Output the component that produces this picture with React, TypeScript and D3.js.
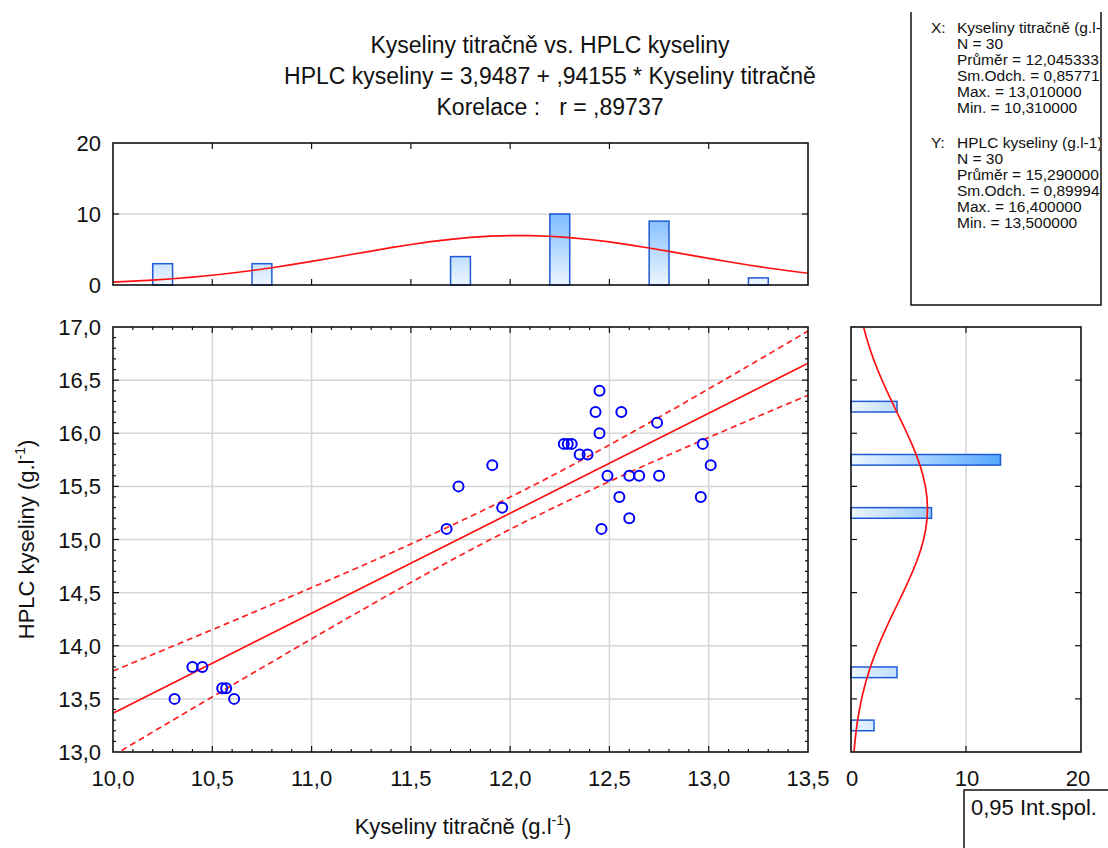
import React, { useEffect } from 'react';
import * as d3 from 'd3';

// ---------- data ----------
const xVals = [10.31, 10.40, 10.45, 10.55, 10.57, 10.61, 11.68, 11.74, 11.91, 11.96,
  12.45, 12.43, 12.56, 12.74, 12.45, 12.27, 12.29, 12.31, 12.35, 12.39,
  12.49, 12.60, 12.65, 12.75, 12.97, 13.01, 12.55, 12.96, 12.60, 12.46];
const yVals = [13.5, 13.8, 13.8, 13.6, 13.6, 13.5, 15.1, 15.5, 15.7, 15.3,
  16.4, 16.2, 16.2, 16.1, 16.0, 15.9, 15.9, 15.9, 15.8, 15.8,
  15.6, 15.6, 15.6, 15.6, 15.9, 15.7, 15.4, 15.4, 15.2, 15.1];

const histXBins = [10.25, 10.75, 11.75, 12.25, 12.75, 13.25];
const histXCounts = [3, 3, 4, 10, 9, 1];
const histYBins = [13.25, 13.75, 15.25, 15.75, 16.25];
const histYCounts = [2, 4, 7, 13, 4];

const intercept = 3.9487;
const slope = 0.94155;
const nObs = 30;
const meanX = 12.045333;
const sdX = 0.857712;
const meanY = 15.29;
const sdY = 0.899943;
const binWidth = 0.5;
const tCrit = 2.0484;

const titleLines = [
  'Kyseliny titračně vs. HPLC kyseliny',
  'HPLC kyseliny = 3,9487 + ,94155 * Kyseliny titračně',
  'Korelace :   r = ,89737',
];
const xStatHead = 'Kyseliny titračně (g.l-1)';
const xStatLines = ['N = 30', 'Průměr = 12,045333', 'Sm.Odch. = 0,857712', 'Max. = 13,010000', 'Min. = 10,310000'];
const yStatHead = 'HPLC kyseliny (g.l-1)';
const yStatLines = ['N = 30', 'Průměr = 15,290000', 'Sm.Odch. = 0,899943', 'Max. = 16,400000', 'Min. = 13,500000'];

const xMajor = [10, 10.5, 11, 11.5, 12, 12.5, 13, 13.5];
const yMajor = [13, 13.5, 14, 14.5, 15, 15.5, 16, 16.5, 17];
const histTicks = [0, 10, 20];

// ---------- layout ----------
const FONT = '"Liberation Sans", Arial, sans-serif';
const TXT = '#111';
const L = 113, R = 808, T = 327, B = 752;
const HT = 143, HB = 285;
const RL = 851, RR = 1081;

const fmt = (v: number) => d3.format('.1f')(v).replace('.', ',');
const normPdf = (v: number, m: number, s: number) =>
  Math.exp(-0.5 * ((v - m) / s) ** 2) / (s * Math.sqrt(2 * Math.PI));

export default function App() {
  useEffect(() => { document.body.style.margin = '0'; }, []);

  const x = d3.scaleLinear().domain([10, 13.5]).range([L, R]);
  const y = d3.scaleLinear().domain([13, 17]).range([B, T]);
  const hy = d3.scaleLinear().domain([0, 20]).range([HB, HT]);
  const hx = d3.scaleLinear().domain([0, 20]).range([RL, RR]);

  // regression stats for confidence band
  const sxx = d3.sum(xVals, (v) => (v - meanX) ** 2);
  const sse = d3.sum(xVals, (v, i) => (yVals[i] - (intercept + slope * v)) ** 2);
  const sRes = Math.sqrt(sse / (nObs - 2));
  const xs = d3.range(10, 13.5001, 0.05);
  const band = (sign: number) => xs.map((v) => {
    const se = sRes * Math.sqrt(1 / nObs + (v - meanX) ** 2 / sxx);
    return [v, intercept + slope * v + sign * tCrit * se] as [number, number];
  });
  const line = d3.line<[number, number]>().x((d) => x(d[0])).y((d) => y(d[1]));

  const topCurve = d3.range(10, 13.5001, 0.1).map((v) => [v, nObs * binWidth * normPdf(v, meanX, sdX)] as [number, number]);
  const topLine = d3.line<[number, number]>().x((d) => x(d[0])).y((d) => hy(d[1]));
  const rightCurve = d3.range(13, 17.0001, 0.1).map((v) => [v, nObs * binWidth * normPdf(v, meanY, sdY)] as [number, number]);
  const rightLine = d3.line<[number, number]>().x((d) => hx(d[1])).y((d) => y(d[0]));

  const xMinor = d3.range(0, 36).map((i) => 10 + i * 0.1).filter((v) => Math.abs(v * 2 - Math.round(v * 2)) > 1e-6);
  const yMinor = d3.range(0, 41).map((i) => 13 + i * 0.1).filter((v) => Math.abs(v * 2 - Math.round(v * 2)) > 1e-6);

  const tick = { stroke: '#111', strokeWidth: 1.2 };
  const frame = { fill: 'none', stroke: '#111', strokeWidth: 1.6 };
  const grid = { stroke: '#d6d6d6', strokeWidth: 1.5 };
  const barStroke = '#1f5bd6';

  return (
    <svg width={1108} height={848} style={{ position: 'absolute', left: 0, top: 0, background: '#fff' }}
      fontFamily={FONT}>
      <defs>
        <linearGradient id="gTop" gradientUnits="userSpaceOnUse" x1={0} y1={hy(0)} x2={0} y2={hy(10)}>
          <stop offset="0" stopColor="#eef6ff" />
          <stop offset="1" stopColor="#7cbcff" />
        </linearGradient>
        <linearGradient id="gRight" gradientUnits="userSpaceOnUse" x1={hx(0)} y1={0} x2={hx(13)} y2={0}>
          <stop offset="0" stopColor="#eef6ff" />
          <stop offset="1" stopColor="#55a8ff" />
        </linearGradient>
        <clipPath id="clipStats"><rect x={912} y={0} width={188} height={304} /></clipPath>
        <clipPath id="clipMain"><rect x={L} y={T} width={R - L} height={B - T} /></clipPath>
      </defs>
      <rect x={0} y={0} width={1108} height={848} fill="#fff" />

      {/* title */}
      {titleLines.map((t, i) => (
        <text key={i} x={550} y={53 + i * 31} textAnchor="middle" fontSize={23} fill={TXT}
          style={{ whiteSpace: 'pre' }} xmlSpace="preserve">{t}</text>
      ))}

      {/* stats box */}
      <path d="M911,12 V305 H1101 V12" fill="none" stroke="#111" strokeWidth={1.5} />
      <g fontSize={15.5} fill={TXT} clipPath="url(#clipStats)">
        <text x={931} y={33}>X:</text>
        <text x={957} y={33}>{xStatHead}</text>
        {xStatLines.map((t, i) => <text key={i} x={957} y={49 + i * 16}>{t}</text>)}
        <text x={931} y={148}>Y:</text>
        <text x={957} y={148}>{yStatHead}</text>
        {yStatLines.map((t, i) => <text key={i} x={957} y={164 + i * 16}>{t}</text>)}
      </g>

      {/* top histogram */}
      <line x1={L} x2={R} y1={hy(10)} y2={hy(10)} {...grid} />
      {histXBins.map((c, i) => (
        <rect key={i} x={x(c - 0.05)} y={hy(histXCounts[i])} width={x(c + 0.05) - x(c - 0.05)}
          height={hy(0) - hy(histXCounts[i])} fill="url(#gTop)" stroke={barStroke} strokeWidth={1.5} />
      ))}
      <path d={topLine(topCurve) || ''} fill="none" stroke="#ff1010" strokeWidth={1.7} />
      <rect x={L} y={HT} width={R - L} height={HB - HT} {...frame} />
      {xMajor.slice(1, -1).map((v) => (
        <g key={v}>
          <line x1={x(v)} x2={x(v)} y1={HT} y2={HT + 6} {...tick} />
          <line x1={x(v)} x2={x(v)} y1={HB} y2={HB - 6} {...tick} />
        </g>
      ))}
      <line x1={L} x2={L + 6} y1={hy(10)} y2={hy(10)} {...tick} />
      <line x1={R} x2={R - 6} y1={hy(10)} y2={hy(10)} {...tick} />
      <g fontSize={22} fill={TXT} textAnchor="end">
        {histTicks.map((v) => <text key={v} x={101} y={hy(v) + 8}>{v}</text>)}
      </g>

      {/* main scatter */}
      {xMajor.slice(1, -1).map((v) => <line key={'gx' + v} x1={x(v)} x2={x(v)} y1={T} y2={B} {...grid} />)}
      {yMajor.slice(1, -1).map((v) => <line key={'gy' + v} x1={L} x2={R} y1={y(v)} y2={y(v)} {...grid} />)}
      <g clipPath="url(#clipMain)">
        <path d={line(band(1)) || ''} fill="none" stroke="#ff2020" strokeWidth={1.7} strokeDasharray="6,4" />
        <path d={line(band(-1)) || ''} fill="none" stroke="#ff2020" strokeWidth={1.7} strokeDasharray="6,4" />
        <path d={line(xs.map((v) => [v, intercept + slope * v] as [number, number])) || ''} fill="none" stroke="#ff1010" strokeWidth={1.7} />
        {xVals.map((v, i) => (
          <circle key={i} cx={x(v)} cy={y(yVals[i])} r={5} fill="none" stroke="#0000ff" strokeWidth={2} />
        ))}
      </g>
      <rect x={L} y={T} width={R - L} height={B - T} {...frame} />
      {xMajor.slice(1, -1).map((v) => (
        <g key={'tx' + v}>
          <line x1={x(v)} x2={x(v)} y1={B} y2={B - 6} {...tick} />
          <line x1={x(v)} x2={x(v)} y1={T} y2={T + 6} {...tick} />
        </g>
      ))}
      {xMinor.map((v) => (
        <g key={'mx' + v}>
          <line x1={x(v)} x2={x(v)} y1={B} y2={B - 3} {...tick} />
          <line x1={x(v)} x2={x(v)} y1={T} y2={T + 3} {...tick} />
        </g>
      ))}
      {yMajor.slice(1, -1).map((v) => (
        <g key={'ty' + v}>
          <line x1={L} x2={L + 6} y1={y(v)} y2={y(v)} {...tick} />
          <line x1={R} x2={R - 6} y1={y(v)} y2={y(v)} {...tick} />
        </g>
      ))}
      {yMinor.map((v) => (
        <g key={'my' + v}>
          <line x1={L} x2={L + 3} y1={y(v)} y2={y(v)} {...tick} />
          <line x1={R} x2={R - 3} y1={y(v)} y2={y(v)} {...tick} />
        </g>
      ))}
      <g fontSize={22} fill={TXT}>
        {xMajor.map((v) => <text key={v} x={x(v)} y={786} textAnchor="middle">{fmt(v)}</text>)}
        {yMajor.map((v) => <text key={v} x={101} y={y(v) + 8} textAnchor="end">{fmt(v)}</text>)}
      </g>
      <text x={463} y={834} textAnchor="middle" fontSize={22} fill={TXT}>
        Kyseliny titračně (g.l<tspan dy={-9} fontSize={14}>-1</tspan><tspan dy={9}>)</tspan>
      </text>
      <text transform={`translate(34,${(T + B) / 2}) rotate(-90)`} textAnchor="middle" fontSize={22} fill={TXT}>
        HPLC kyseliny (g.l<tspan dy={-9} fontSize={14}>-1</tspan><tspan dy={9}>)</tspan>
      </text>

      {/* right histogram */}
      <line x1={hx(10)} x2={hx(10)} y1={T} y2={B} {...grid} />
      {histYBins.map((c, i) => (
        <rect key={i} x={hx(0)} y={y(c + 0.05)} width={hx(histYCounts[i]) - hx(0)}
          height={y(c - 0.05) - y(c + 0.05)} fill="url(#gRight)" stroke={barStroke} strokeWidth={1.5} />
      ))}
      <path d={rightLine(rightCurve) || ''} fill="none" stroke="#ff1010" strokeWidth={1.7} />
      <rect x={RL} y={T} width={RR - RL} height={B - T} {...frame} />
      {yMajor.slice(1, -1).map((v) => (
        <g key={'ry' + v}>
          <line x1={RL} x2={RL + 6} y1={y(v)} y2={y(v)} {...tick} />
          <line x1={RR} x2={RR - 6} y1={y(v)} y2={y(v)} {...tick} />
        </g>
      ))}
      <line x1={hx(10)} x2={hx(10)} y1={T} y2={T + 6} {...tick} />
      <line x1={hx(10)} x2={hx(10)} y1={B} y2={B - 6} {...tick} />
      <g fontSize={22} fill={TXT} textAnchor="middle">
        {histTicks.map((v) => <text key={v} x={hx(v) + (v === 20 ? -3 : 1)} y={786}>{v}</text>)}
      </g>

      {/* legend box */}
      <path d="M964,850 V790 H1110" fill="none" stroke="#111" strokeWidth={1.5} />
      <text x={971} y={815} fontSize={22} fill={TXT}>0,95 Int.spol.</text>
    </svg>
  );
}
